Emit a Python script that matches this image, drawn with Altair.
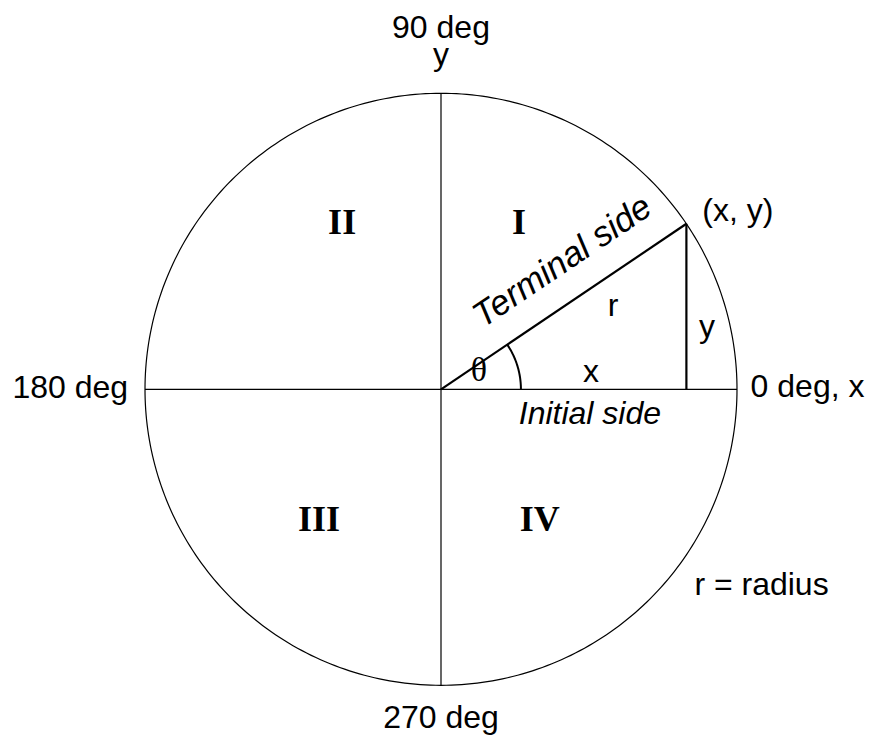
import numpy as np
import pandas as pd
import altair as alt

# ---- values ----
theta_deg = 34            # angle of terminal side
arc_r = 0.27              # radius of the theta arc (unit = circle radius)

# axis segments (x1, y1, x2, y2) in unit-circle coordinates
axis_x1 = [-1, 0]
axis_y1 = [0, -1]
axis_x2 = [1, 0]
axis_y2 = [0, 1]

# plain sans labels
sans_text = ["90 deg", "y", "270 deg", "y", "r", "x"]
sans_x = [0, 0, 0, 0.899, 0.581, 0.507]
sans_y = [1.186, 1.094, -1.143, 0.177, 0.248, 0.025]

left_text = ["0 deg, x", "(x, y)", "r = radius"]
left_x = [1.046, 0.883, 0.856]
left_y = [-0.026, 0.569, -0.695]

right_text = ["180 deg"]
right_x = [-1.057]
right_y = [-0.029]

roman_text = ["II", "I", "III", "IV"]
roman_x = [-0.334, 0.2635, -0.412, 0.334]
roman_y = [0.524, 0.524, -0.479, -0.479]

italic_text = ["Initial side"]
italic_x = [0.503]
italic_y = [-0.117]

term_text = ["Terminal side"]
term_x = [0.41]
term_y = [0.432]

greek_text = ["θ"]
greek_x = [0.128]
greek_y = [0.027]

# ---- geometry ----
t = np.radians(np.arange(0, 361, 1))
circle = pd.DataFrame({"x": np.cos(t), "y": np.sin(t), "o": np.arange(len(t))})
ta = np.radians(np.linspace(0, theta_deg, 40))
arc = pd.DataFrame({"x": arc_r * np.cos(ta), "y": arc_r * np.sin(ta), "o": np.arange(len(ta))})
px, py = np.cos(np.radians(theta_deg)), np.sin(np.radians(theta_deg))
tri = pd.DataFrame({"x": [0, px], "y": [0, py], "x2": [px, px], "y2": [py, 0]})
axes = pd.DataFrame({"x": axis_x1, "y": axis_y1, "x2": axis_x2, "y2": axis_y2})

# pixel mapping: center at (441, 389.3), radius 296 px, plot 857 x 728 at page offset 8
R = 296.0
xdom = [(8 - 441) / R, (865 - 441) / R]
ydom = [(389.3 - 736) / R, (389.3 - 8) / R]
X = lambda f="x": alt.X(f, type="quantitative", scale=alt.Scale(domain=xdom, nice=False, zero=False), axis=None)
Y = lambda f="y": alt.Y(f, type="quantitative", scale=alt.Scale(domain=ydom, nice=False, zero=False), axis=None)

circ = alt.Chart(circle).mark_line(color="black", strokeWidth=1.2).encode(x=X(), y=Y(), order="o:Q")
arcm = alt.Chart(arc).mark_line(color="black", strokeWidth=2).encode(x=X(), y=Y(), order="o:Q")
axm = alt.Chart(axes).mark_rule(color="black", strokeWidth=1.2).encode(x=X(), y=Y(), x2="x2:Q", y2="y2:Q")
trim = alt.Chart(tri).mark_rule(color="black", strokeWidth=2.2).encode(x=X(), y=Y(), x2="x2:Q", y2="y2:Q")

def labels(texts, xs, ys, **kw):
    df = pd.DataFrame({"x": xs, "y": ys, "t": texts})
    return alt.Chart(df).mark_text(color="black", baseline="alphabetic", **kw).encode(x=X(), y=Y(), text="t:N")

SANS = "Liberation Sans"
layers = [
    circ, axm, trim, arcm,
    labels(sans_text, sans_x, sans_y, align="center", font=SANS, fontSize=32),
    labels(left_text, left_x, left_y, align="left", font=SANS, fontSize=32),
    labels(right_text, right_x, right_y, align="right", font=SANS, fontSize=32),
    labels(italic_text, italic_x, italic_y, align="center", font=SANS, fontSize=32, fontStyle="italic"),
    labels(roman_text, roman_x, roman_y, align="center", font="Liberation Serif", fontSize=36, fontWeight="bold"),
    labels(greek_text, greek_x, greek_y, align="center", font="Liberation Serif", fontSize=34),
]
term = alt.Chart(pd.DataFrame({"x": term_x, "y": term_y, "t": term_text})).mark_text(
    color="black", align="center", baseline="middle", font=SANS, fontSize=35,
    fontStyle="italic", angle=360 - theta_deg).encode(x=X(), y=Y(), text="t:N")
layers.append(term)

chart = alt.layer(*layers).properties(
    width=857, height=728, padding=0, autosize=alt.AutoSizeParams(type="none")
).configure_view(stroke=None)

chart.save("out.html", embed_options={"renderer": "svg", "actions": False})
